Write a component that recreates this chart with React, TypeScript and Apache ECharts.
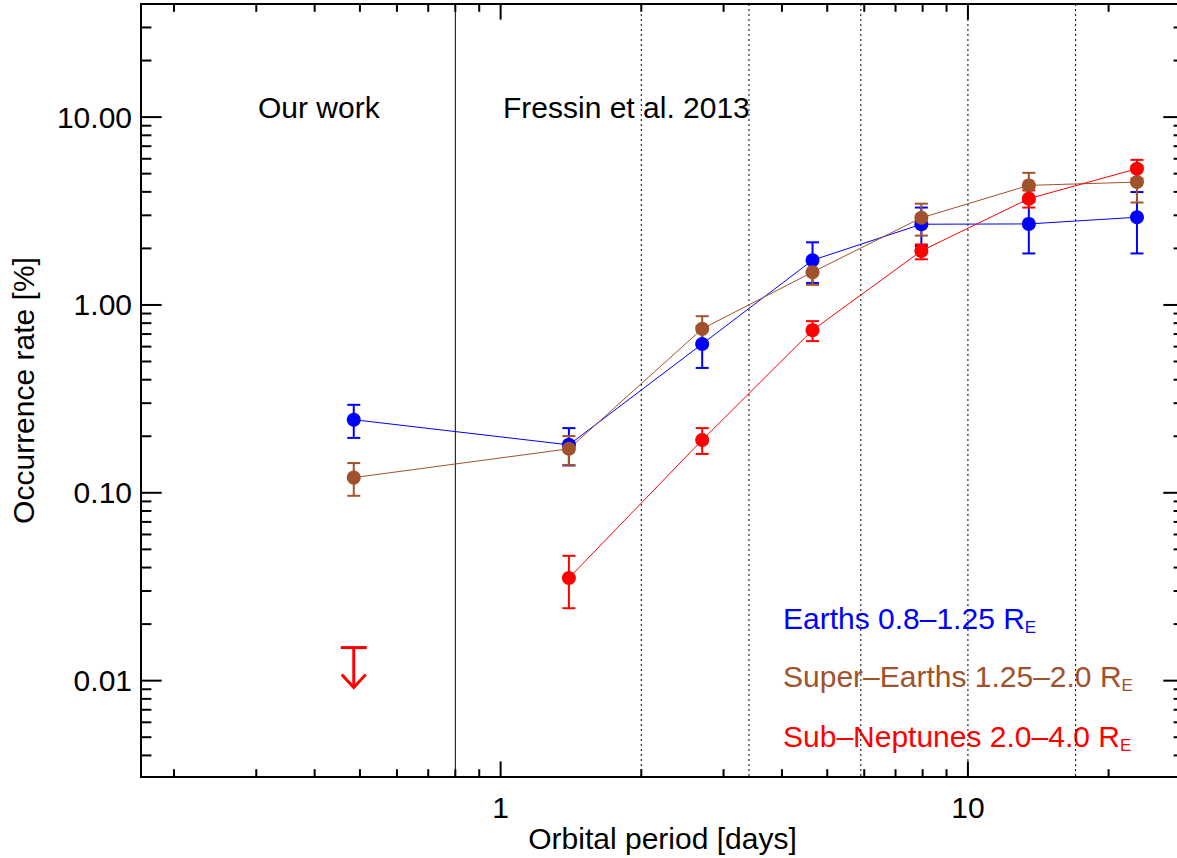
import React, { useEffect, useRef } from "react";
import * as echarts from "echarts";

const FONT_FAMILY = '"Liberation Sans", Arial, Helvetica, sans-serif';
const FONT_SIZE = 30;
const FONT = FONT_SIZE + "px " + FONT_FAMILY;

// ---- data ----
const ourWorkPeriod = [0.485];
const fressinPeriods = [1.4, 2.7, 4.65, 7.95, 13.5, 23];
const solidEdges = [0.8];
const dottedEdges = [2.0, 3.4, 5.9, 10, 17];

const earthsPeriods = [0.485, 1.4, 2.7, 4.65, 7.95, 13.5, 23];
const earthsRate = [0.245, 0.18, 0.62, 1.73, 2.69, 2.7, 2.93];
const earthsLow = [0.196, 0.14, 0.462, 1.31, 2.06, 1.88, 1.88];
const earthsHigh = [0.294, 0.221, 0.77, 2.155, 3.3, 3.54, 3.99];

const superPeriods = [0.485, 1.4, 2.7, 4.65, 7.95, 13.5, 23];
const superRate = [0.1205, 0.1715, 0.746, 1.495, 2.91, 4.33, 4.51];
const superLow = [0.0964, 0.14, 0.612, 1.28, 2.34, 3.6, 3.51];
const superHigh = [0.144, 0.2004, 0.871, 1.72, 3.46, 5.05, 5.5];

const subRate = [0.0352, 0.191, 0.734, 1.94, 3.68, 5.31];
const subLow = [0.0243, 0.161, 0.642, 1.75, 3.3, 4.7];
const subHigh = [0.0462, 0.221, 0.82, 2.1, 4.07, 5.92];
const subUpperLimit = [0.015];

const xMajorTicks = [1, 10];
const xTickLabels = ["1", "10"];
const xMinorTicks = [0.2, 0.3, 0.4, 0.5, 0.6, 0.7, 0.8, 0.9, 2, 3, 4, 5, 6, 7, 8, 9, 20];
const yMajorTicks = [0.01, 0.1, 1, 10];
const yTickLabels = ["0.01", "0.10", "1.00", "10.00"];
const yMinorTicks = [
  0.004, 0.005, 0.006, 0.007, 0.008, 0.009,
  0.02, 0.03, 0.04, 0.05, 0.06, 0.07, 0.08, 0.09,
  0.2, 0.3, 0.4, 0.5, 0.6, 0.7, 0.8, 0.9,
  2, 3, 4, 5, 6, 7, 8, 9, 20, 30,
];

const X_MIN = 0.17;
const X_MAX = 29;
const Y_MIN = 0.00307;
const Y_MAX = 40;

const BLUE = "#0000ff";
const BROWN = "#a0522d";
const RED = "#ff0000";

function errorSeries(periods: number[], rate: number[], low: number[], high: number[], color: string) {
  return {
    type: "custom",
    coordinateSystem: "cartesian2d",
    silent: true,
    clip: false,
    data: periods.map((p, i) => [p, rate[i], low[i], high[i]]),
    encode: { x: 0, y: 1 },
    renderItem: (params: any, api: any) => {
      const x = api.value(0);
      const lo = api.coord([x, api.value(2)]);
      const hi = api.coord([x, api.value(3)]);
      const w = 6.5;
      const st = () => ({ stroke: color, lineWidth: 2 });
      return {
        type: "group",
        children: [
          { type: "line", shape: { x1: lo[0], y1: lo[1], x2: hi[0], y2: hi[1] }, style: st() },
          { type: "line", shape: { x1: hi[0] - w, y1: hi[1], x2: hi[0] + w, y2: hi[1] }, style: st() },
          { type: "line", shape: { x1: lo[0] - w, y1: lo[1], x2: lo[0] + w, y2: lo[1] }, style: st() },
        ],
      };
    },
  };
}

function lineSeries(periods: number[], rate: number[], color: string) {
  return {
    type: "line",
    silent: true,
    data: periods.map((p, i) => [p, rate[i]]),
    symbol: "circle",
    symbolSize: 14,
    showSymbol: true,
    showAllSymbol: true,
    lineStyle: { color, width: 1 },
    itemStyle: { color },
    emphasis: { disabled: true },
  };
}

function edgeSeries(edges: number[], dotted: boolean) {
  return {
    type: "custom",
    coordinateSystem: "cartesian2d",
    silent: true,
    clip: false,
    z: 1,
    data: edges.map((e) => [e, 1]),
    renderItem: (params: any, api: any) => {
      const cs = params.coordSys;
      const p = api.coord([api.value(0), 1]);
      return {
        type: "line",
        shape: { x1: p[0], y1: cs.y, x2: p[0], y2: cs.y + cs.height },
        style: dotted
          ? { stroke: "#000", lineWidth: 1, lineDash: [2, 3] }
          : { stroke: "#000", lineWidth: 1 },
      };
    },
  };
}

function textStyle(text: string, x: number, y: number, align: string, vAlign: string) {
  return {
    text,
    x,
    y,
    fill: "#000",
    font: FONT,
    align,
    verticalAlign: vAlign,
    textAlign: align,
    textVerticalAlign: vAlign,
  };
}

function xTickSeries(ticks: number[], labels: string[] | null, len: number) {
  return {
    type: "custom",
    coordinateSystem: "cartesian2d",
    silent: true,
    clip: false,
    data: ticks.map((t) => [t, 1]),
    renderItem: (params: any, api: any) => {
      const cs = params.coordSys;
      const p = api.coord([api.value(0), 1]);
      const bottom = cs.y + cs.height;
      const children: any[] = [
        { type: "line", shape: { x1: p[0], y1: bottom, x2: p[0], y2: bottom - len }, style: { stroke: "#000", lineWidth: 2 } },
        { type: "line", shape: { x1: p[0], y1: cs.y, x2: p[0], y2: cs.y + len }, style: { stroke: "#000", lineWidth: 2 } },
      ];
      if (labels) {
        children.push({ type: "text", style: textStyle(labels[params.dataIndex], p[0], bottom + 30, "center", "middle") });
      }
      return { type: "group", children };
    },
  };
}

function yTickSeries(ticks: number[], labels: string[] | null, len: number) {
  return {
    type: "custom",
    coordinateSystem: "cartesian2d",
    silent: true,
    clip: false,
    data: ticks.map((t) => [1, t]),
    renderItem: (params: any, api: any) => {
      const cs = params.coordSys;
      const p = api.coord([1, api.value(1)]);
      const right = cs.x + cs.width;
      const children: any[] = [
        { type: "line", shape: { x1: cs.x, y1: p[1], x2: cs.x + len, y2: p[1] }, style: { stroke: "#000", lineWidth: 2 } },
        { type: "line", shape: { x1: right, y1: p[1], x2: right - len, y2: p[1] }, style: { stroke: "#000", lineWidth: 2 } },
      ];
      if (labels) {
        children.push({ type: "text", style: textStyle(labels[params.dataIndex], cs.x - 9, p[1], "right", "middle") });
      }
      return { type: "group", children };
    },
  };
}

const upperLimitSeries = {
  type: "custom",
  coordinateSystem: "cartesian2d",
  silent: true,
  clip: false,
  data: ourWorkPeriod.map((p, i) => [p, subUpperLimit[i]]),
  renderItem: (params: any, api: any) => {
    const p = api.coord([api.value(0), api.value(1)]);
    const st = () => ({ stroke: RED, lineWidth: 3 });
    const tip = p[1] + 40;
    return {
      type: "group",
      children: [
        { type: "line", shape: { x1: p[0] - 13, y1: p[1], x2: p[0] + 13, y2: p[1] }, style: st() },
        { type: "line", shape: { x1: p[0], y1: p[1], x2: p[0], y2: tip }, style: st() },
        { type: "polyline", shape: { points: [[p[0] - 12, tip - 13], [p[0], tip], [p[0] + 12, tip - 13]] }, style: { ...st(), fill: "none" } },
      ],
    };
  },
};

function legendText(main: string, color: string, x: number, y: number) {
  return {
    type: "text",
    x,
    y,
    silent: true,
    style: {
      text: "{m|" + main + "}{s|E}",
      fill: color,
      font: FONT,
      align: "left",
      verticalAlign: "middle",
      textAlign: "left",
      textVerticalAlign: "middle",
      rich: {
        m: { font: FONT, fill: color, lineHeight: 36 },
        s: { font: "17px " + FONT_FAMILY, fill: color, lineHeight: 14, verticalAlign: "bottom" },
      },
    },
  };
}

const option: any = {
  animation: false,
  backgroundColor: "#ffffff",
  grid: {
    show: true,
    left: 139,
    top: 4,
    right: 1,
    bottom: 76,
    borderColor: "#000",
    borderWidth: 2,
    backgroundColor: "transparent",
  },
  xAxis: {
    type: "log",
    logBase: 10,
    min: X_MIN,
    max: X_MAX,
    name: "Orbital period [days]",
    nameLocation: "middle",
    nameGap: 46,
    nameTextStyle: { fontSize: FONT_SIZE, fontFamily: FONT_FAMILY, color: "#000" },
    axisLine: { show: false },
    axisTick: { show: false },
    axisLabel: { show: false },
    splitLine: { show: false },
  },
  yAxis: {
    type: "log",
    logBase: 10,
    min: Y_MIN,
    max: Y_MAX,
    name: "Occurrence rate [%]",
    nameLocation: "middle",
    nameGap: 103,
    nameTextStyle: { fontSize: FONT_SIZE, fontFamily: FONT_FAMILY, color: "#000" },
    axisLine: { show: false },
    axisTick: { show: false },
    axisLabel: { show: false },
    splitLine: { show: false },
  },
  graphic: [
    { type: "text", x: 258, y: 107, silent: true, style: textStyle("Our work", 0, 0, "left", "middle") },
    { type: "text", x: 503, y: 107, silent: true, style: textStyle("Fressin et al. 2013", 0, 0, "left", "middle") },
    legendText("Earths 0.8\u20131.25 R", BLUE, 783, 618),
    legendText("Super\u2013Earths 1.25\u20132.0 R", BROWN, 783, 676),
    legendText("Sub\u2013Neptunes 2.0\u20134.0 R", RED, 783, 736),
  ],
  series: [
    edgeSeries(solidEdges, false),
    edgeSeries(dottedEdges, true),
    xTickSeries(xMajorTicks, xTickLabels, 15.6),
    xTickSeries(xMinorTicks, null, 7.8),
    yTickSeries(yMajorTicks, yTickLabels, 20.7),
    yTickSeries(yMinorTicks, null, 10.4),
    errorSeries(earthsPeriods, earthsRate, earthsLow, earthsHigh, BLUE),
    lineSeries(earthsPeriods, earthsRate, BLUE),
    errorSeries(superPeriods, superRate, superLow, superHigh, BROWN),
    lineSeries(superPeriods, superRate, BROWN),
    errorSeries(fressinPeriods, subRate, subLow, subHigh, RED),
    lineSeries(fressinPeriods, subRate, RED),
    upperLimitSeries,
  ],
};

export default function App() {
  const ref = useRef<HTMLDivElement>(null);
  useEffect(() => {
    if (!ref.current) return;
    const chart = echarts.init(ref.current, null, { renderer: "svg" });
    chart.setOption(option);
    return () => chart.dispose();
  }, []);
  return (
    <div
      style={{ position: "fixed", left: 0, top: 0, width: 1177, height: 858, overflow: "hidden", background: "#fff" }}
    >
      <div ref={ref} style={{ width: 1185, height: 858 }} />
    </div>
  );
}
